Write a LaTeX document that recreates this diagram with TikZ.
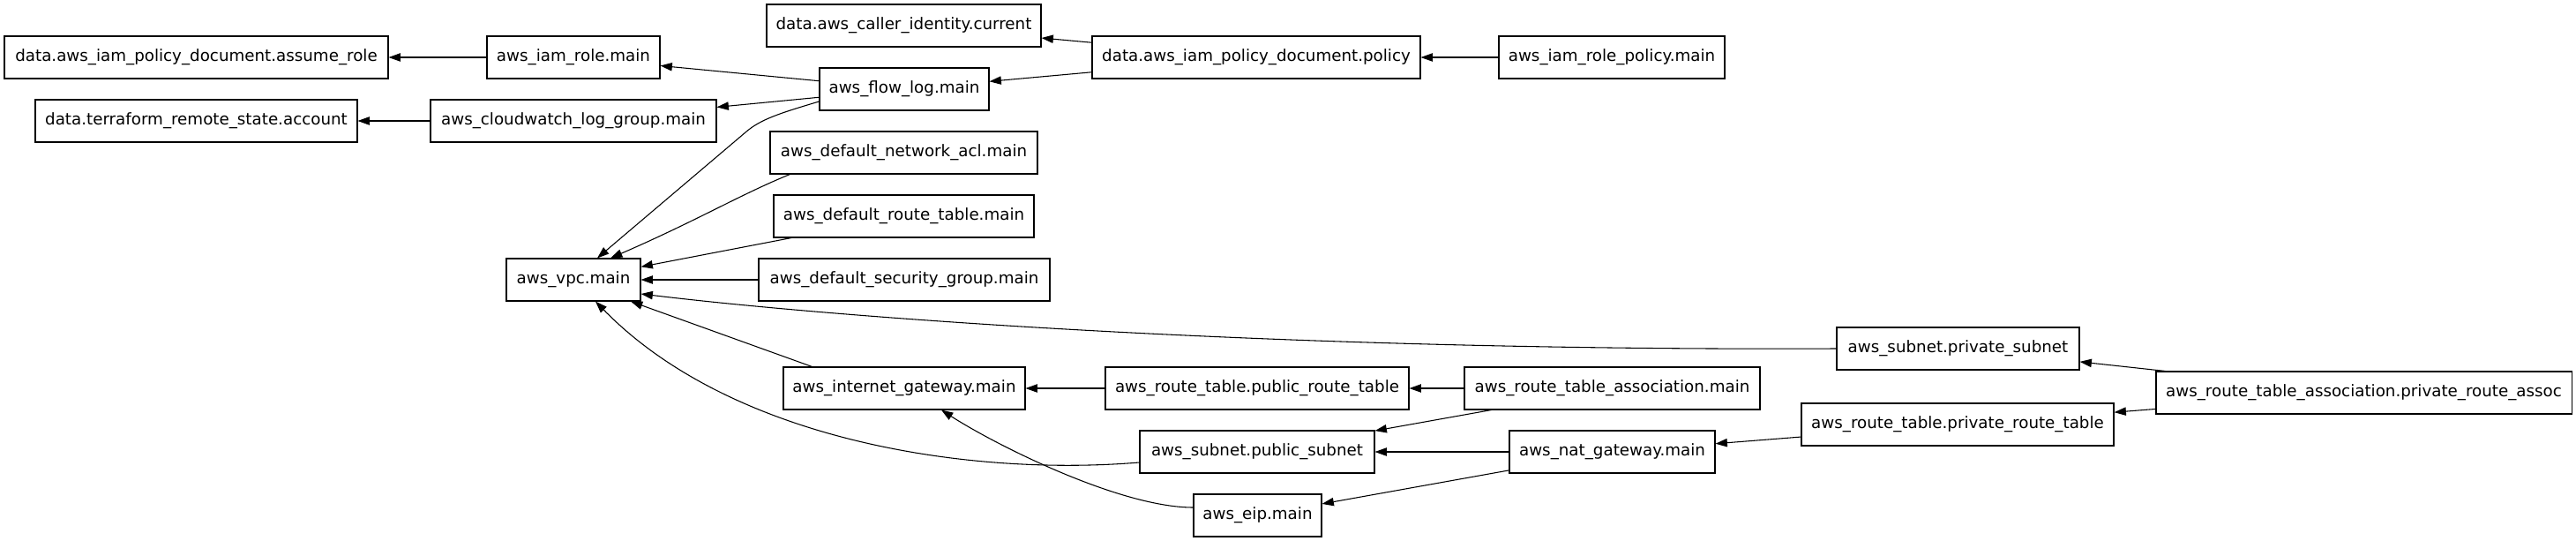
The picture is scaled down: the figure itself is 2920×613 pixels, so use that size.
\documentclass[tikz,border=0pt]{standalone}
\usepackage{fontspec}
\setmainfont{DejaVu Sans}
\usetikzlibrary{arrows.meta,calc}
\tikzset{
  box/.style={draw=black, line width=0.8pt, rectangle, inner sep=2pt,
    minimum height=36pt, minimum width=#1*0.75pt,
    font=\fontsize{13.7pt}{16pt}\selectfont},
  edge/.style={draw=black, line width=0.8pt, -{Triangle[length=10pt,width=7pt]}}
}
\begin{document}
\begin{tikzpicture}[x=0.75pt,y=-0.75pt]
\useasboundingbox (0,0) rectangle (2920,613);
% rank 0
\node[box=435] (ar) at (222.5,65) {data.aws\_iam\_policy\_document.assume\_role};
\node[box=365] (trs) at (222.5,137) {data.terraform\_remote\_state.account};
% rank 1
\node[box=196] (role) at (650,65) {aws\_iam\_role.main};
\node[box=324] (cw) at (650,137) {aws\_cloudwatch\_log\_group.main};
\node[box=152] (vpc) at (650,317) {aws\_vpc.main};
% rank 2
\node[box=311] (caller) at (1024.5,29) {data.aws\_caller\_identity.current};
\node[box=192] (flow) at (1025,101) {aws\_flow\_log.main};
\node[box=303] (nacl) at (1024.5,173) {aws\_default\_network\_acl.main};
\node[box=295] (drt) at (1024.5,245) {aws\_default\_route\_table.main};
\node[box=330] (sg) at (1025,317) {aws\_default\_security\_group.main};
\node[box=274] (igw) at (1025,440) {aws\_internet\_gateway.main};
% rank 3
\node[box=372] (policy) at (1424,65) {data.aws\_iam\_policy\_document.policy};
\node[box=344] (prt) at (1425,440) {aws\_route\_table.public\_route\_table};
\node[box=266] (pubsub) at (1425,512) {aws\_subnet.public\_subnet};
\node[box=145] (eip) at (1425.5,584) {aws\_eip.main};
% rank 4
\node[box=256] (irp) at (1827,65) {aws\_iam\_role\_policy.main};
\node[box=335] (rta) at (1827.5,440) {aws\_route\_table\_association.main};
\node[box=233] (nat) at (1827.5,512) {aws\_nat\_gateway.main};
% rank 5
\node[box=275] (privsub) at (2219.5,395) {aws\_subnet.private\_subnet};
\node[box=354] (privrt) at (2219,481) {aws\_route\_table.private\_route\_table};
% rank 6
\node[box=471] (assoc) at (2679.5,445) {aws\_route\_table\_association.private\_route\_assoc};
% straight edges
\draw[edge] (role) -- (ar);
\draw[edge] (cw) -- (trs);
\draw[edge] (flow) -- (role);
\draw[edge] (flow) -- (cw);
\draw[edge] (sg) -- (vpc);
\draw[edge] (drt) -- (vpc);
\draw[edge] (policy) -- (caller);
\draw[edge] (policy) -- (flow);
\draw[edge] (irp) -- (policy);
\draw[edge] (prt) -- (igw);
\draw[edge] (rta) -- (prt);
\draw[edge] (rta) -- (pubsub);
\draw[edge] (nat) -- (pubsub);
\draw[edge] (nat) -- (eip);
\draw[edge] (privrt) -- (nat);
\draw[edge] (assoc) -- (privsub);
\draw[edge] (assoc) -- (privrt);
% curved edges
\draw[edge] ($(flow.west)+(0,14)$) .. controls (885,128) and (862,135) .. (845,150) -- ($(vpc.north)+(27,0)$);
\draw[edge] ($(nacl.south west)+(23,0)$) .. controls (840,220) and (790,250) .. ($(vpc.north)+(42,0)$);
\draw[edge] ($(igw.north west)+(33,0)$) -- ($(vpc.south)+(65,0)$);
\draw[edge] (privsub.west) .. controls (1450,398) and (950,360) .. ($(vpc.east)+(0,16)$);
\draw[edge] ($(pubsub.west)+(0,12)$) .. controls (1100,540) and (830,500) .. ($(vpc.south)+(25,0)$);
\draw[edge] ($(eip.west)+(0,-9)$) .. controls (1270,575) and (1130,505) .. ($(igw.south)+(42,0)$);
\end{tikzpicture}
\end{document}
